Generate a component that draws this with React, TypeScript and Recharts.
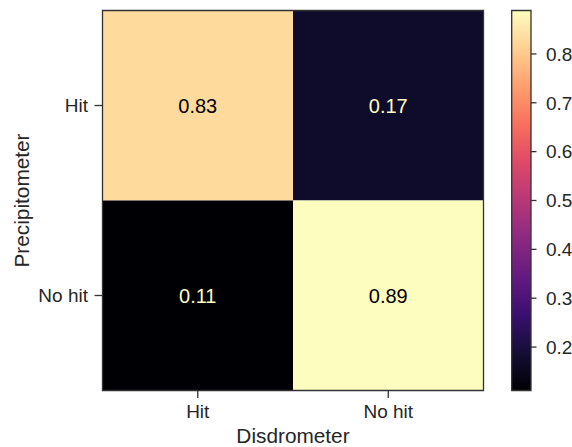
import React from 'react';
import { ComposedChart, XAxis, YAxis, ReferenceArea, Scatter } from 'recharts';

// ---- data ----
const xCategories = ['Hit', 'No hit']; // Disdrometer
const yCategories = ['Hit', 'No hit']; // Precipitometer (top to bottom)
const rowHit = [0.83, 0.17];
const rowNoHit = [0.11, 0.89];
const matrix = [rowHit, rowNoHit];
const colorbarTicks = [0.2, 0.3, 0.4, 0.5, 0.6, 0.7, 0.8];
const vMin = 0.1111;
const vMax = 0.8889;

// magma colormap stops
const magmaStops = [
  '#000004', '#140e36', '#3b0f70', '#641a80', '#8c2981', '#b73779',
  '#de4968', '#f7705c', '#fe9f6d', '#fecf92', '#fcfdbf',
];

const hexToRgb = (h: string) => [1, 3, 5].map((i) => parseInt(h.slice(i, i + 2), 16));
const magma = (t: number) => {
  const c = Math.max(0, Math.min(1, t)) * (magmaStops.length - 1);
  const i = Math.min(Math.floor(c), magmaStops.length - 2);
  const f = c - i;
  const a = hexToRgb(magmaStops[i]);
  const b = hexToRgb(magmaStops[i + 1]);
  const m = a.map((v, k) => Math.round(v + (b[k] - v) * f));
  return `rgb(${m[0]},${m[1]},${m[2]})`;
};
const norm = (v: number) => (v - vMin) / (vMax - vMin);

const cells = matrix.flatMap((row, i) =>
  row.map((v, j) => ({ x: j + 0.5, y: i + 0.5, v, row: i, col: j }))
);

const FONT = '"Liberation Sans", Arial, sans-serif';
const AXIS_COLOR = '#333333';
const TEXT_COLOR = '#262626';

const CellText = (props: any) => {
  const { cx, cy, payload } = props;
  const light = norm(payload.v) > 0.5;
  return (
    <text
      x={cx}
      y={cy}
      textAnchor="middle"
      dominantBaseline="central"
      fontSize={20}
      fontFamily={FONT}
      fill={light ? '#000000' : '#fcfdbf'}
    >
      {payload.v.toFixed(2)}
    </text>
  );
};

export default function App() {
  return (
    <div style={{ position: 'fixed', left: 0, top: 0, width: 572, height: 447, background: '#fff', fontFamily: FONT, overflow: 'hidden' }}>
      <div style={{ position: 'absolute', left: 0, top: 0 }}>
        <ComposedChart width={500} height={447} data={cells} margin={{ top: 10.5, right: 16.5, bottom: 0, left: 0 }}>
          <XAxis
            type="number"
            dataKey="x"
            domain={[0, 2]}
            ticks={[0.5, 1.5]}
            tickFormatter={(v: number) => xCategories[Math.floor(v)]}
            height={56.5}
            axisLine={false}
            tickSize={7.5}
            tickMargin={7}
            tickLine={{ stroke: AXIS_COLOR, strokeWidth: 1.3 }}
            tick={{ fill: TEXT_COLOR, fontSize: 19, fontFamily: FONT }}
            label={{ value: 'Disdrometer', position: 'insideBottom', offset: 4, fill: TEXT_COLOR, fontSize: 20.8, fontFamily: FONT }}
          />
          <YAxis
            type="number"
            dataKey="y"
            domain={[0, 2]}
            reversed
            ticks={[0.5, 1.5]}
            tickFormatter={(v: number) => yCategories[Math.floor(v)]}
            width={102.5}
            axisLine={false}
            tickSize={8}
            tickMargin={6.5}
            tickLine={{ stroke: AXIS_COLOR, strokeWidth: 1.3 }}
            tick={{ fill: TEXT_COLOR, fontSize: 19, fontFamily: FONT }}
            label={{ value: 'Precipitometer', angle: -90, position: 'insideLeft', offset: 22, fill: TEXT_COLOR, fontSize: 20.8, fontFamily: FONT, style: { textAnchor: 'middle' } }}
          />
          {cells.map((c) => (
            <ReferenceArea
              key={`${c.row}-${c.col}`}
              x1={c.col}
              x2={c.col + 1}
              y1={c.row}
              y2={c.row + 1}
              fill={magma(norm(c.v))}
              fillOpacity={1}
              stroke="none"
            />
          ))}
          <ReferenceArea x1={0} x2={2} y1={0} y2={2} fill="none" stroke={AXIS_COLOR} strokeWidth={1.3} />
          <Scatter dataKey="y" isAnimationActive={false} shape={<CellText />} />
        </ComposedChart>
      </div>
      <div style={{ position: 'absolute', left: 490, top: 0 }}>
        <ComposedChart width={82} height={447} data={[{ x: 0, v: vMin }, { x: 1, v: vMax }]} margin={{ top: 10.5, right: 0, bottom: 56.5, left: 21.7 }}>
          <defs>
            <linearGradient id="magmaGrad" x1="0" y1="1" x2="0" y2="0">
              {magmaStops.map((c, i) => (
                <stop key={i} offset={`${(i / (magmaStops.length - 1)) * 100}%`} stopColor={c} />
              ))}
            </linearGradient>
          </defs>
          <XAxis type="number" dataKey="x" domain={[0, 1]} hide />
          <YAxis
            type="number"
            dataKey="v"
            orientation="right"
            domain={[vMin, vMax]}
            ticks={colorbarTicks}
            width={41}
            axisLine={false}
            tickSize={5.5}
            tickMargin={9.5}
            tickLine={{ stroke: AXIS_COLOR, strokeWidth: 1.3 }}
            tick={{ fill: TEXT_COLOR, fontSize: 19, fontFamily: FONT, textAnchor: 'start' }}
            tickFormatter={(v: number) => v.toFixed(1)}
          />
          <ReferenceArea x1={0} x2={1} y1={vMin} y2={vMax} fill="url(#magmaGrad)" fillOpacity={1} stroke={AXIS_COLOR} strokeWidth={1.3} />
        </ComposedChart>
      </div>
    </div>
  );
}
